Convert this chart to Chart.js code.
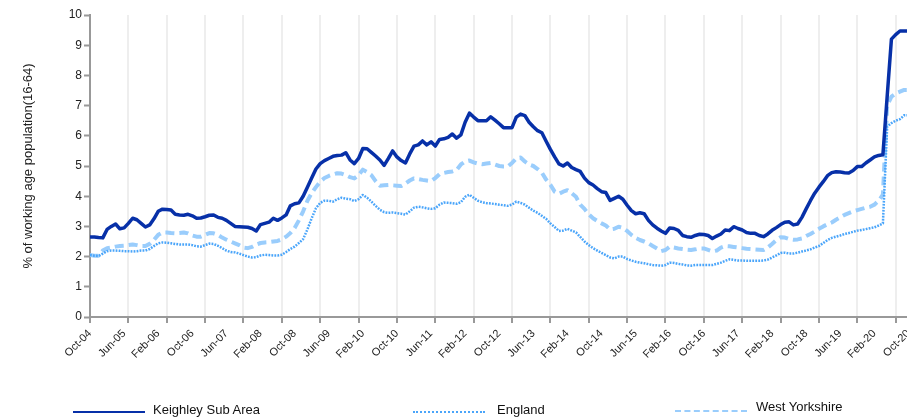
<!DOCTYPE html>
<html>
<head>
<meta charset="utf-8">
<script src="https://cdn.jsdelivr.net/npm/chart.js@4.4.1/dist/chart.umd.min.js"></script>
<style>
  html, body { margin: 0; padding: 0; background: #fff; width: 907px; height: 417px; overflow: hidden; }
  #wrap { position: relative; width: 923px; height: 417px; }
  .leg-line { position: absolute; height: 0; }
  .leg-text { position: absolute; font: 13px "Liberation Sans", Arial, sans-serif; color: #111; white-space: nowrap; line-height: 15px; }
</style>
</head>
<body>
<div id="wrap">
  <canvas id="chart" width="923" height="417"></canvas>
</div>
<script>
// Claimant rate, monthly from Oct-04 (index 0) to Oct-20 (index 192)
const xTickLabels = ['Oct-04', 'Jun-05', 'Feb-06', 'Oct-06', 'Jun-07', 'Feb-08', 'Oct-08', 'Jun-09',
  'Feb-10', 'Oct-10', 'Jun-11', 'Feb-12', 'Oct-12', 'Jun-13', 'Feb-14', 'Oct-14', 'Jun-15',
  'Feb-16', 'Oct-16', 'Jun-17', 'Feb-18', 'Oct-18', 'Jun-19', 'Feb-20', 'Oct-20'];

const keighley = [
  2.65, 2.65, 2.63, 2.62, 2.9, 3.0, 3.08, 2.92, 2.95, 3.1,
  3.27, 3.22, 3.1, 2.98, 3.05, 3.25, 3.5, 3.57, 3.56, 3.54,
  3.4, 3.38, 3.37, 3.4, 3.35, 3.27, 3.28, 3.32, 3.37, 3.38,
  3.3, 3.27, 3.2, 3.1, 3.0, 2.99, 2.98, 2.97, 2.93, 2.85,
  3.06, 3.1, 3.14, 3.27, 3.2, 3.28, 3.38, 3.68, 3.75, 3.78,
  4.0, 4.3, 4.6, 4.9, 5.08, 5.18, 5.25, 5.32, 5.35, 5.36,
  5.44, 5.2, 5.08, 5.25, 5.58, 5.57, 5.45, 5.33, 5.2, 5.02,
  5.25, 5.5, 5.3, 5.18, 5.1, 5.4, 5.66, 5.7, 5.83, 5.7,
  5.8, 5.66, 5.88, 5.9, 5.95, 6.06, 5.92, 6.03, 6.45, 6.75,
  6.62, 6.5, 6.5, 6.5, 6.63, 6.52, 6.4, 6.27, 6.27, 6.27,
  6.62, 6.72, 6.67, 6.45, 6.3, 6.17, 6.1, 5.82, 5.55, 5.3,
  5.07, 5.0, 5.1, 4.95, 4.88, 4.82, 4.6, 4.45, 4.37, 4.25,
  4.15, 4.12, 3.86, 3.93, 4.0, 3.9, 3.7, 3.52, 3.42, 3.45,
  3.42, 3.2, 3.05, 2.94, 2.85, 2.77, 2.95, 2.93, 2.87, 2.7,
  2.66, 2.64, 2.7, 2.74, 2.73, 2.7, 2.6, 2.68, 2.75, 2.88,
  2.86, 2.99, 2.93, 2.88, 2.8, 2.77, 2.77, 2.7, 2.66, 2.75,
  2.87, 2.96, 3.06, 3.14, 3.15, 3.05, 3.08, 3.3, 3.58, 3.85,
  4.1, 4.3, 4.48, 4.68, 4.78, 4.81, 4.8, 4.78, 4.77, 4.85,
  4.98, 4.98, 5.1, 5.2, 5.3, 5.35, 5.37, 7.3, 9.2, 9.35,
  9.47, 9.47, 9.47
];

const england = [
  2.05, 2.03, 2.02, 2.1, 2.18, 2.2, 2.2, 2.19, 2.18, 2.18,
  2.17, 2.18, 2.2, 2.2, 2.25, 2.35, 2.44, 2.47, 2.46, 2.44,
  2.42, 2.4, 2.4, 2.4, 2.38, 2.34, 2.33, 2.38, 2.43, 2.42,
  2.36, 2.28, 2.2, 2.15, 2.14, 2.1, 2.05, 2.0, 1.97, 1.98,
  2.04, 2.06, 2.05, 2.04, 2.04, 2.06, 2.15, 2.25, 2.33, 2.45,
  2.58, 2.9, 3.27, 3.6, 3.78, 3.85, 3.85, 3.82, 3.9, 3.95,
  3.92, 3.9, 3.84, 3.9, 4.04, 3.95, 3.82, 3.68, 3.55, 3.47,
  3.45, 3.46, 3.44, 3.42, 3.39, 3.5, 3.62, 3.65, 3.63, 3.6,
  3.58, 3.6, 3.72, 3.79, 3.78, 3.77, 3.75, 3.8, 3.98, 4.05,
  3.95, 3.85, 3.8, 3.77, 3.76, 3.74, 3.72, 3.7, 3.68, 3.72,
  3.82, 3.78, 3.72, 3.62, 3.52, 3.45, 3.35, 3.25, 3.1, 2.98,
  2.85, 2.86, 2.92, 2.86, 2.8, 2.65, 2.5, 2.38, 2.28, 2.2,
  2.12, 2.05, 1.97, 1.94, 2.0, 2.0, 1.92, 1.87, 1.83, 1.8,
  1.78, 1.75, 1.72, 1.71, 1.7, 1.72, 1.8, 1.79, 1.76, 1.74,
  1.71, 1.7, 1.72, 1.72, 1.72, 1.72, 1.72, 1.76, 1.8, 1.86,
  1.91, 1.89, 1.87, 1.87, 1.86, 1.86, 1.86, 1.86, 1.87, 1.9,
  1.97, 2.04, 2.12, 2.13, 2.1, 2.1, 2.13, 2.17, 2.2, 2.24,
  2.3, 2.35, 2.45, 2.55, 2.62, 2.66, 2.7, 2.75, 2.78, 2.82,
  2.86, 2.88, 2.91, 2.94, 2.97, 3.03, 3.1, 6.3, 6.42, 6.5,
  6.55, 6.68, 6.68
];

const westYorkshire = [
  2.05, 2.03, 2.03, 2.2, 2.28, 2.3, 2.33, 2.35, 2.36, 2.38,
  2.4, 2.38, 2.35, 2.35, 2.42, 2.55, 2.72, 2.8, 2.8, 2.78,
  2.77, 2.78, 2.8, 2.77, 2.7, 2.66, 2.66, 2.72, 2.78, 2.77,
  2.72, 2.63, 2.56, 2.5, 2.44, 2.38, 2.3, 2.28, 2.32, 2.4,
  2.45, 2.47, 2.48, 2.5, 2.52, 2.57, 2.66, 2.78, 2.95, 3.2,
  3.5, 3.85, 4.1, 4.3, 4.48, 4.6, 4.67, 4.72, 4.76, 4.75,
  4.7, 4.63, 4.59, 4.7, 4.88, 4.8, 4.7, 4.5, 4.35, 4.36,
  4.37, 4.36, 4.35, 4.34, 4.42, 4.52, 4.59, 4.57, 4.54, 4.52,
  4.5, 4.6, 4.73, 4.77, 4.8, 4.82, 4.87, 5.05, 5.15, 5.18,
  5.12, 5.08, 5.06, 5.08, 5.1, 5.05, 5.0, 4.98, 4.98, 5.1,
  5.25, 5.28, 5.15, 5.05, 5.0, 4.9, 4.78, 4.55, 4.38, 4.15,
  4.08, 4.15, 4.2, 4.1, 3.98, 3.72, 3.58, 3.4, 3.27, 3.18,
  3.1, 3.03, 2.9, 2.92, 2.99, 2.95, 2.85, 2.72, 2.62, 2.55,
  2.5, 2.44, 2.35, 2.27, 2.18, 2.22, 2.33, 2.3, 2.27, 2.25,
  2.23, 2.22, 2.24, 2.27, 2.27, 2.22, 2.17, 2.2, 2.3, 2.35,
  2.34, 2.32, 2.3, 2.28, 2.26, 2.25, 2.24, 2.23, 2.22, 2.3,
  2.42, 2.55, 2.64, 2.63, 2.58, 2.56, 2.57, 2.6, 2.68, 2.75,
  2.83, 2.92, 3.0, 3.07, 3.13, 3.22, 3.3, 3.38, 3.44, 3.5,
  3.54, 3.58, 3.62, 3.65, 3.72, 3.85, 4.05, 7.0, 7.3, 7.4,
  7.46, 7.52, 7.52
];

const seriesNames  = ['Keighley Sub Area', 'England', 'West Yorkshire'];
const seriesValues = [keighley, england, westYorkshire];

const FONT = '"Liberation Sans", Arial, sans-serif';
const styles = [
  { color: '#0730a8', width: 3.5, dash: [],       cap: 'butt' },
  { color: '#4aa5fa', width: 2.5, dash: [1.8, 1.2], cap: 'butt' },
  { color: '#9acdfc', width: 4,   dash: [9, 5],   cap: 'butt' },
];

const datasets = seriesValues.map((vals, i) => ({
  label: seriesNames[i],
  data: vals.map((v, m) => ({ x: m, y: v })),
  borderColor: styles[i].color,
  borderWidth: styles[i].width,
  borderDash: styles[i].dash,
  borderCapStyle: styles[i].cap,
  borderJoinStyle: 'round',
  pointRadius: 0,
  tension: 0,
  fill: false,
}));

new Chart(document.getElementById('chart'), {
  type: 'line',
  data: { datasets },
  options: {
    responsive: false,
    animation: false,
    layout: { padding: { top: 15, right: 6, left: 0, bottom: 0 } },
    plugins: { legend: { display: false }, tooltip: { enabled: false } },
    scales: {
      // labels every 8 months
      x: {
        type: 'linear', position: 'bottom', min: 0, max: 194, weight: 1,
        afterFit: s => { s.height = 94; },
        border: { display: false },
        grid: { display: false, drawTicks: false },
        ticks: {
          stepSize: 8, includeBounds: false, autoSkip: false,
          minRotation: 45, maxRotation: 45, padding: 4,
          color: '#222', font: { family: FONT, size: 11 },
          callback: v => xTickLabels[v / 8] || '',
        },
      },
      // grid lines and tick marks every 9 months
      x2: {
        type: 'linear', position: 'bottom', min: 0, max: 194, weight: 0,
        afterFit: s => { s.height = 6; },
        border: { display: true, color: '#999', width: 2 },
        grid: { color: '#eeeeee', lineWidth: 2, tickColor: '#999', tickWidth: 2, tickLength: 6 },
        ticks: { stepSize: 9, includeBounds: false, autoSkip: false, display: false },
      },
      y: {
        min: 0, max: 10,
        afterFit: s => { s.width = 90; },
        border: { display: true, color: '#999', width: 2 },
        grid: { drawOnChartArea: false, tickColor: '#999', tickWidth: 2, tickLength: 6 },
        ticks: { stepSize: 1, padding: 2, color: '#222', font: { family: FONT, size: 12 } },
        title: {
          display: true, text: '% of working age population(16-64)',
          color: '#222', font: { family: FONT, size: 13 }, padding: { top: 21, bottom: 0 },
        },
      },
    },
  },
});

// legend row at the bottom, placed as in the source image
const legendPos = [
  { lineX: 73,  lineY: 411, textX: 153, textY: 402, lineStyle: 'solid',  lineW: 2 },
  { lineX: 413, lineY: 411, textX: 497, textY: 402, lineStyle: 'dotted', lineW: 2 },
  { lineX: 675, lineY: 410, textX: 756, textY: 399, lineStyle: 'dashed', lineW: 2 },
];
const wrap = document.getElementById('wrap');
seriesNames.forEach((name, i) => {
  const p = legendPos[i];
  const line = document.createElement('div');
  line.className = 'leg-line';
  line.style.cssText = `left:${p.lineX}px;top:${p.lineY}px;width:72px;border-top:${p.lineW}px ${p.lineStyle} ${styles[i].color}`;
  wrap.appendChild(line);
  const txt = document.createElement('div');
  txt.className = 'leg-text';
  txt.style.cssText = `left:${p.textX}px;top:${p.textY}px`;
  txt.textContent = name;
  wrap.appendChild(txt);
});
</script>
</body>
</html>
